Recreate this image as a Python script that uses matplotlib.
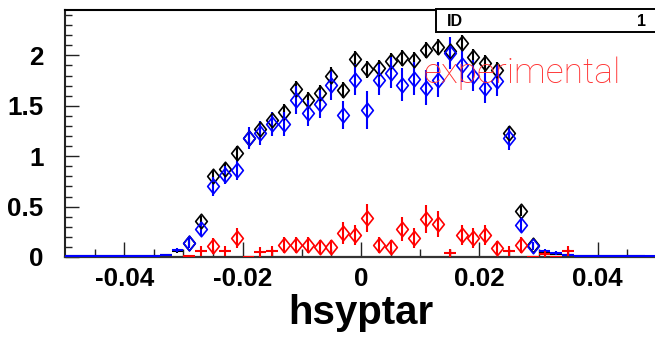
import numpy as np
import matplotlib
matplotlib.use("Agg")
import matplotlib.pyplot as plt
from matplotlib.patches import Rectangle
from matplotlib.path import Path

plt.rcParams['font.family'] = ['Liberation Sans', 'DejaVu Sans']
plt.rcParams['axes.unicode_minus'] = False

# ---- data (50 bins of width 0.002 from -0.05 to 0.05) ----
bin_centers = [round(-0.049 + 0.002 * i, 3) for i in range(50)]
bin_half_width = 0.001

black_vals = [0.005, 0.005, 0.01, 0.01, 0.01, 0.01, 0.005, 0.01, 0.015, 0.06,
              0.14, 0.36, 0.80, 0.87, 1.03, 1.18, 1.27, 1.36, 1.44, 1.67,
              1.56, 1.63, 1.80, 1.66, 1.96, 1.86, 1.87, 1.94, 1.97, 1.95,
              2.05, 2.08, 2.04, 2.12, 1.98, 1.92, 1.85, 1.23, 0.46, 0.12,
              0.05, 0.03, 0.02, 0.01, 0.01, 0.01, 0.01, 0.005, 0.005, 0.0]
black_err = [0.005, 0.005, 0.01, 0.01, 0.01, 0.01, 0.005, 0.01, 0.01, 0.02,
             0.03, 0.05, 0.06, 0.06, 0.07, 0.07, 0.07, 0.07, 0.08, 0.08,
             0.08, 0.08, 0.08, 0.08, 0.08, 0.08, 0.08, 0.08, 0.08, 0.08,
             0.08, 0.08, 0.08, 0.08, 0.08, 0.08, 0.08, 0.07, 0.05, 0.03,
             0.02, 0.01, 0.01, 0.01, 0.01, 0.01, 0.01, 0.005, 0.005, 0.0]

blue_vals = [0.005, 0.005, 0.01, 0.01, 0.01, 0.01, 0.005, 0.01, 0.015, 0.07,
             0.14, 0.28, 0.70, 0.81, 0.86, 1.18, 1.23, 1.32, 1.32, 1.56,
             1.43, 1.52, 1.71, 1.41, 1.76, 1.46, 1.76, 1.83, 1.71, 1.77,
             1.68, 1.76, 2.02, 1.90, 1.80, 1.68, 1.75, 1.18, 0.32, 0.11,
             0.06, 0.04, 0.02, 0.01, 0.01, 0.01, 0.01, 0.005, 0.005, 0.005]
blue_err = [0.005, 0.005, 0.01, 0.01, 0.01, 0.01, 0.005, 0.01, 0.01, 0.02,
            0.05, 0.07, 0.09, 0.09, 0.10, 0.11, 0.12, 0.12, 0.12, 0.14,
            0.13, 0.14, 0.15, 0.14, 0.15, 0.19, 0.15, 0.15, 0.16, 0.16,
            0.17, 0.17, 0.16, 0.16, 0.15, 0.15, 0.15, 0.12, 0.07, 0.04,
            0.02, 0.02, 0.01, 0.01, 0.01, 0.01, 0.01, 0.005, 0.005, 0.005]

red_vals = [0.0, 0.0, 0.0, 0.0, 0.0, 0.0, 0.0, 0.0, 0.0, 0.0,
            0.005, 0.06, 0.11, 0.06, 0.185, 0.0, 0.05, 0.06, 0.12, 0.12,
            0.12, 0.10, 0.10, 0.235, 0.22, 0.39, 0.12, 0.10, 0.28, 0.185,
            0.375, 0.33, 0.04, 0.22, 0.185, 0.22, 0.09, 0.06, 0.12, 0.0,
            0.03, 0.0, 0.06, 0.0, 0.0, 0.0, 0.0, 0.0, 0.0, 0.0]
red_err = [0.0, 0.0, 0.0, 0.0, 0.0, 0.0, 0.0, 0.0, 0.0, 0.0,
           0.0, 0.05, 0.08, 0.05, 0.10, 0.0, 0.05, 0.05, 0.08, 0.08,
           0.08, 0.07, 0.07, 0.11, 0.10, 0.14, 0.08, 0.07, 0.12, 0.10,
           0.14, 0.13, 0.04, 0.10, 0.10, 0.10, 0.07, 0.05, 0.08, 0.0,
           0.03, 0.0, 0.05, 0.0, 0.0, 0.0, 0.0, 0.0, 0.0, 0.0]

series = [("black", black_vals, black_err),
          ("#0000ff", blue_vals, blue_err),
          ("#ff0000", red_vals, red_err)]

x_ticks = [-0.04, -0.02, 0, 0.02, 0.04]
x_tick_labels = ["-0.04", "-0.02", "0", "0.02", "0.04"]
y_ticks = [0, 0.5, 1, 1.5, 2]
y_tick_labels = ["0", "0.5", "1", "1.5", "2"]
x_title = "hsyptar"
stats_name, stats_value = "ID", "1"
overlay_text = "experimental"

# ---- figure ----
W, H = 655, 337
fig = plt.figure(figsize=(W / 100, H / 100), dpi=100)
ax = fig.add_axes([65 / W, (H - 257) / H, 592 / W, 247.5 / H])
ax.set_xlim(-0.05, 0.05)
ax.set_ylim(0, 2.455)

diamond = Path([(0, 1), (0.8, 0), (0, -1), (-0.8, 0), (0, 1)],
               [Path.MOVETO, Path.LINETO, Path.LINETO, Path.LINETO, Path.CLOSEPOLY])

marker_threshold = 0.08
for color, vals, errs in series:
    x = np.array(bin_centers)
    v = np.array(vals)
    e = np.array(errs)
    big = v >= marker_threshold
    small = ~big & ((v > 0) | (color == "#ff0000"))
    if color == "#ff0000":
        small &= (np.arange(50) >= 10) & (np.arange(50) <= 42)
    ax.errorbar(x[small], v[small], yerr=e[small], xerr=bin_half_width,
                fmt='none', ecolor=color, elinewidth=1.5, capsize=0,
                zorder=3)
    ax.errorbar(x[big], v[big], yerr=e[big], fmt='none', ecolor=color,
                elinewidth=1.5, capsize=0, zorder=3)
    ax.plot(x[big], v[big], linestyle='none', marker=diamond, markersize=10.5,
            markerfacecolor='none', markeredgecolor=color,
            markeredgewidth=1.2, zorder=4)

ax.set_xticks(x_ticks)
ax.set_xticklabels(x_tick_labels)
ax.set_xticks(np.arange(-0.045, 0.0451, 0.005), minor=True)
ax.set_yticks(y_ticks)
ax.set_yticklabels(y_tick_labels)
ax.set_yticks(np.arange(0, 2.45, 0.1), minor=True)

ax.tick_params(axis='both', which='both', direction='in', colors='#222222',
               width=1.0)
ax.tick_params(axis='x', which='major', length=10.5, pad=7.5, labelsize=18.7)
ax.tick_params(axis='x', which='minor', length=5.5)
ax.tick_params(axis='y', which='major', length=10, pad=15.5, labelsize=18.7)
ax.tick_params(axis='y', which='minor', length=5)
for lab in ax.get_xticklabels() + ax.get_yticklabels():
    lab.set_fontweight('bold')
    lab.set_color('black')

ax.spines['left'].set_linewidth(1.5)
ax.spines['left'].set_color('#222222')
ax.spines['bottom'].set_linewidth(1.6)
ax.spines['bottom'].set_color('#333333')
ax.spines['top'].set_linewidth(1.5)
ax.spines['right'].set_visible(False)

ax.set_xlabel(x_title, fontsize=29, fontweight='bold', labelpad=2)

# stats box
box = Rectangle((436 / W, (H - 32) / H), 240 / W, 22.5 / H,
                transform=fig.transFigure, facecolor='white',
                edgecolor='black', linewidth=1.4, zorder=10)
fig.add_artist(box)
fig.text(447 / W, (H - 21) / H, stats_name, fontsize=11.5, fontweight='bold',
         va='center', ha='left', zorder=11)
fig.text(646 / W, (H - 21) / H, stats_value, fontsize=11.5, fontweight='bold',
         va='center', ha='right', zorder=11)

fig.text(423 / W, (H - 83) / H, overlay_text, fontsize=25.5,
         family=['Roboto', 'DejaVu Sans'], fontweight='light', color='#ff3333',
         va='baseline', ha='left', zorder=12)

fig.savefig("out.png", dpi=100)
